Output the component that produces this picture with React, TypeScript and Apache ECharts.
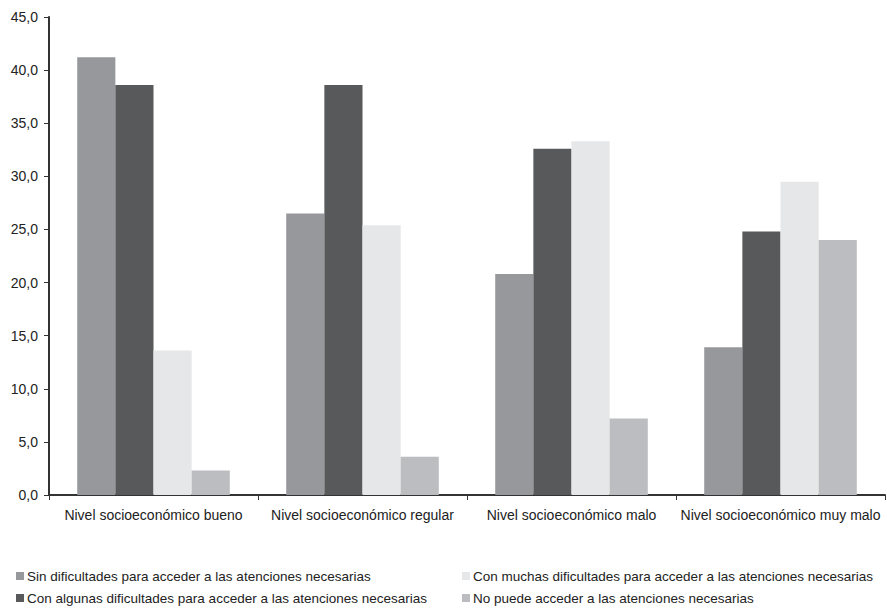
import React, { useEffect, useRef } from "react";
import * as echarts from "echarts";

const categories = [
  "Nivel socioeconómico bueno",
  "Nivel socioeconómico regular",
  "Nivel socioeconómico malo",
  "Nivel socioeconómico muy malo",
];
const seriesNames = [
  "Sin dificultades para acceder a las atenciones necesarias",
  "Con algunas dificultades para acceder a las atenciones necesarias",
  "Con muchas dificultades para acceder a las atenciones necesarias",
  "No puede acceder a las atenciones necesarias",
];
const sinDificultades = [41.2, 26.5, 20.8, 13.9];
const conAlgunas = [38.6, 38.6, 32.6, 24.8];
const conMuchas = [13.6, 25.4, 33.3, 29.5];
const noPuede = [2.3, 3.6, 7.2, 24.0];
const colors = ["#97989b", "#58595b", "#e6e7e8", "#bcbdc0"];

export default function App() {
  const ref = useRef<HTMLDivElement>(null);
  useEffect(() => {
    if (!ref.current) return;
    const chart = echarts.init(ref.current, undefined, { renderer: "svg" });
    const values = [sinDificultades, conAlgunas, conMuchas, noPuede];
    const legendPos = [
      { left: 16, top: 569 },
      { left: 16, top: 591 },
      { left: 462, top: 569 },
      { left: 462, top: 591 },
    ];
    chart.setOption({
      animation: false,
      backgroundColor: "#fff",
      grid: { left: 49, right: 2, top: 17, bottom: 114, containLabel: false },
      legend: seriesNames.map((n, i) => ({
        data: [n],
        left: legendPos[i].left,
        top: legendPos[i].top,
        padding: 0,
        itemWidth: 8,
        itemHeight: 8,
        icon: "rect",
        textStyle: {
          fontFamily: "'Liberation Sans', Arial, sans-serif",
          fontSize: 13.5,
          color: "#222",
          padding: [0, 0, 0, -2],
        },
      })),
      xAxis: {
        type: "category",
        data: categories,
        axisLine: { lineStyle: { color: "#333", width: 2 } },
        axisTick: { show: true, length: 5, lineStyle: { color: "#333", width: 1 } },
        axisLabel: {
          interval: 0,
          fontFamily: "'Liberation Sans', Arial, sans-serif",
          fontSize: 14,
          color: "#222",
          margin: 13,
        },
      },
      yAxis: {
        type: "value",
        min: 0,
        max: 45,
        interval: 5,
        splitLine: { show: false },
        axisLine: { show: true, lineStyle: { color: "#333", width: 2 } },
        axisTick: { show: true, length: 5, lineStyle: { color: "#333", width: 1 } },
        axisLabel: {
          fontFamily: "'Liberation Sans', Arial, sans-serif",
          fontSize: 14,
          color: "#222",
          margin: 11,
          formatter: (v: number) => v.toFixed(1).replace(".", ","),
        },
      },
      series: values.map((d, i) => ({
        name: seriesNames[i],
        type: "bar",
        data: d,
        barGap: "0%",
        barCategoryGap: "27%",
        itemStyle: { color: colors[i] },
      })),
    });
    return () => chart.dispose();
  }, []);
  return <div ref={ref} style={{ width: 887, height: 609, position: "absolute", left: 0, top: 0 }} />;
}
